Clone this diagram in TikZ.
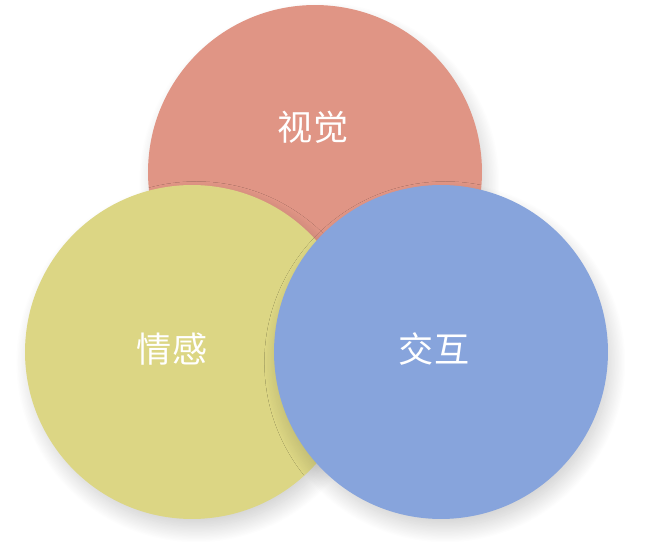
\documentclass[tikz,border=0pt]{standalone}
\usepackage{fontspec}
\newfontfamily\cjk{Noto Sans CJK SC}
\usetikzlibrary{shadows.blur}
\definecolor{visred}{HTML}{E09585}
\definecolor{emoyellow}{HTML}{DCD684}
\definecolor{actblue}{HTML}{87A4DC}
\tikzset{
	ring/.style={circle,inner sep=0pt,minimum size=6.68cm,
		blur shadow={shadow xshift=2.5pt,shadow yshift=-6pt,shadow scale=0.98,
			shadow blur radius=10pt,shadow blur steps=40,shadow opacity=22}},
	word/.style={text=white,font=\cjk\fontsize{20}{24}\selectfont}
}

\begin{document}
\begin{tikzpicture}[x=0.02cm,y=-0.02cm]
	\useasboundingbox (0,0) rectangle (650,551);
	\node[ring,fill=visred] (vis) at (315,172) {};
	\node[ring,fill=emoyellow] (emo) at (192,352) {};
	\node[ring,fill=actblue] (act) at (441,352) {};
	\node[word] (visl) at (313,127) {视觉};
	\node[word] (emol) at (172,349) {情感};
	\node[word] (actl) at (434,349) {交互};
\end{tikzpicture}
\end{document}
